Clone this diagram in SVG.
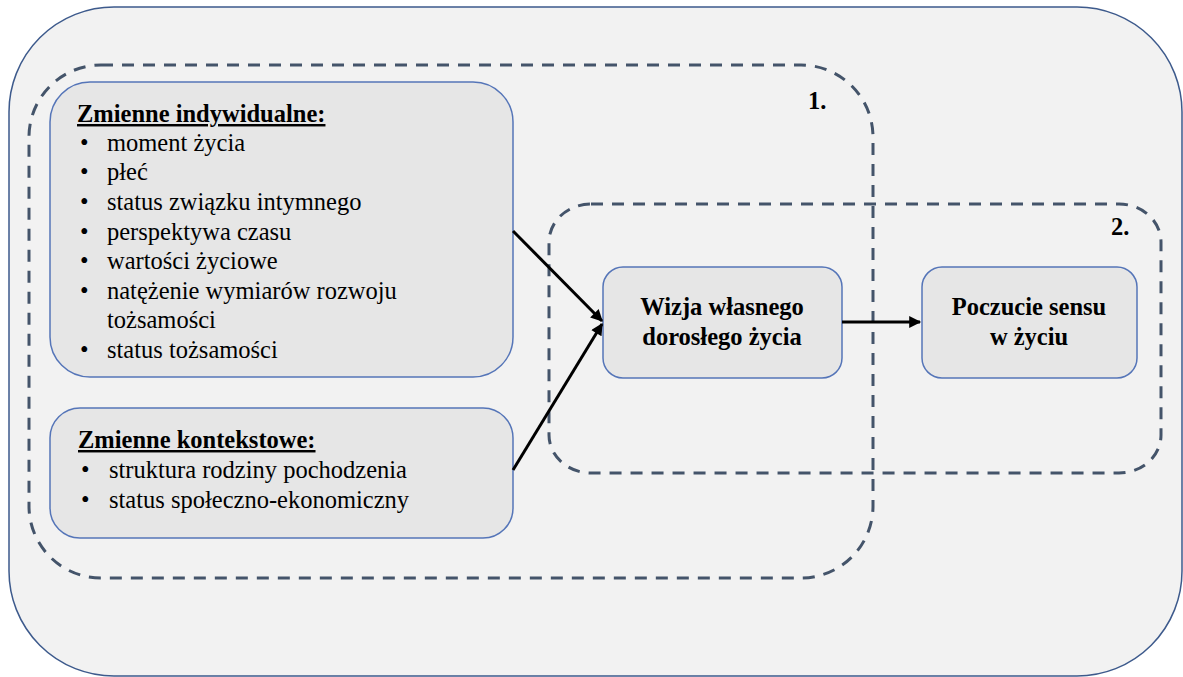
<svg xmlns="http://www.w3.org/2000/svg" width="1183" height="677" viewBox="0 0 1183 677">
<style>
.bg{fill:#f2f2f2;stroke:#3d5a8c;stroke-width:1.5}
.node{fill:#e6e6e6;stroke:#5575b8;stroke-width:1.5}
.dash{fill:none;stroke:#44546a;stroke-width:3;stroke-dasharray:12 9}
.t{font-family:"Liberation Serif","Times New Roman",serif;font-size:24.5px;fill:#000}
.b{font-weight:bold}
.h{font-weight:bold;text-decoration:underline}
.c{text-anchor:middle}
.edge{stroke:#000;stroke-width:3;fill:none;marker-end:url(#ah)}
</style>
<defs>
<marker id="ah" viewBox="0 0 10 10" refX="9" refY="5" markerWidth="4.5" markerHeight="4" orient="auto" markerUnits="strokeWidth">
<path d="M0,0 L10,5 L0,10 z" fill="#000"/>
</marker>
</defs>
<rect class="bg" x="9" y="7" width="1173" height="669" rx="105" ry="105"/>
<g id="group1">
<rect class="dash" x="29" y="65" width="844" height="513" rx="72" ry="72"/>
<text class="t b" x="808" y="109" font-size="22">1.</text>
</g>
<g id="group2">
<rect class="dash" x="549" y="204" width="612" height="269" rx="42" ry="38"/>
<text class="t b" x="1111" y="235" font-size="22">2.</text>
</g>
<g id="indywidualne">
<rect class="node" x="50" y="82" width="463" height="295" rx="40" ry="40"/>
<text class="t h" x="77" y="122">Zmienne indywidualne:</text>
<text x="80" y="151" class="t">•</text><text x="107" y="151" class="t">moment życia</text>
<text x="80" y="180" class="t">•</text><text x="107" y="180" class="t">płeć</text>
<text x="80" y="210" class="t">•</text><text x="107" y="210" class="t">status związku intymnego</text>
<text x="80" y="240" class="t">•</text><text x="107" y="240" class="t">perspektywa czasu</text>
<text x="80" y="269" class="t">•</text><text x="107" y="269" class="t">wartości życiowe</text>
<text x="80" y="299" class="t">•</text><text x="107" y="299" class="t">natężenie wymiarów rozwoju</text>
<text x="107" y="328" class="t">tożsamości</text>
<text x="80" y="358" class="t">•</text><text x="107" y="358" class="t">status tożsamości</text>
</g>
<g id="kontekstowe">
<rect class="node" x="50" y="408" width="463" height="130" rx="30" ry="30"/>
<text class="t h" x="78" y="448">Zmienne kontekstowe:</text>
<text x="81" y="478" class="t">•</text><text x="109" y="478" class="t">struktura rodziny pochodzenia</text>
<text x="81" y="508" class="t">•</text><text x="109" y="508" class="t">status społeczno-ekonomiczny</text>
</g>
<g id="wizja">
<rect class="node" x="603" y="267" width="239" height="111" rx="20" ry="20"/>
<text class="t b c" x="722" y="315">Wizja własnego</text>
<text class="t b c" x="722" y="345">dorosłego życia</text>
</g>
<g id="poczucie">
<rect class="node" x="922" y="267" width="215" height="111" rx="20" ry="20"/>
<text class="t b c" x="1029" y="315">Poczucie sensu</text>
<text class="t b c" x="1029" y="345">w życiu</text>
</g>
<g id="connectors">
<line class="edge" x1="513" y1="231" x2="602" y2="321"/>
<line class="edge" x1="513" y1="470" x2="602" y2="324"/>
<line class="edge" x1="842" y1="322" x2="920" y2="322"/>
</g>
</svg>
